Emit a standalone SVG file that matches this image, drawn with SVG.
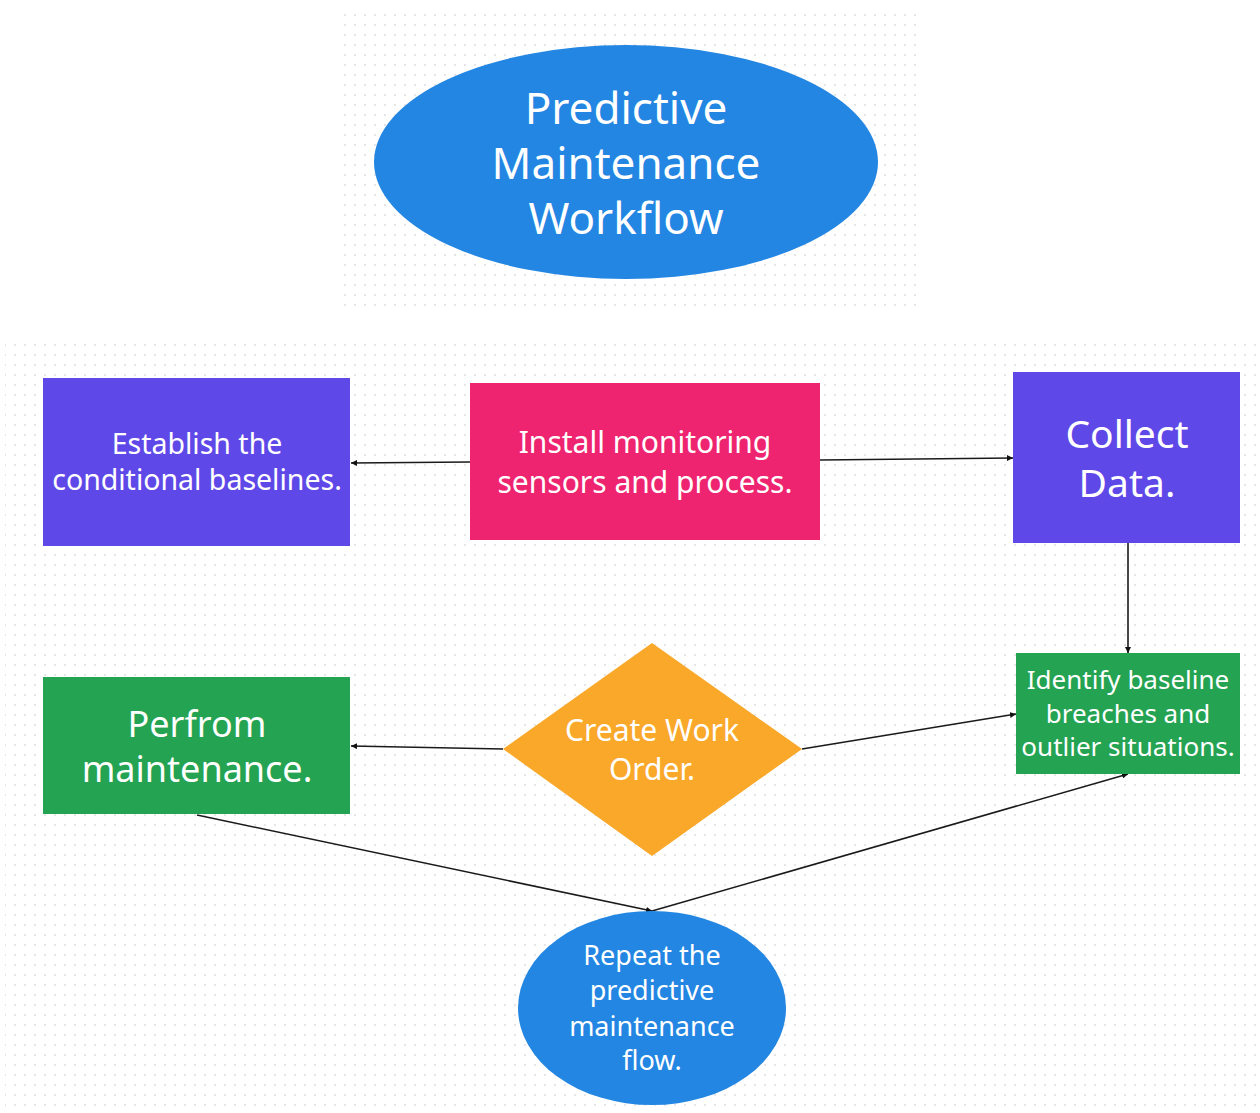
<svg xmlns="http://www.w3.org/2000/svg" width="1260" height="1113" viewBox="0 0 1260 1113">
  <defs>
    <pattern id="dots" x="0" y="0" width="10" height="10" patternUnits="userSpaceOnUse">
      <circle cx="5" cy="5" r="1" fill="#dcdce0"/>
    </pattern>
    <marker id="arrow" viewBox="0 0 10 10" refX="10" refY="5" markerWidth="6" markerHeight="6" orient="auto" markerUnits="userSpaceOnUse">
      <path d="M0,0 L10,5 L0,10 z" fill="#111"/>
    </marker>
    <style>
      .lbl { font-family: "Noto Sans", "Liberation Sans", Arial, sans-serif; fill: #ffffff; text-anchor: middle; }
      .edge { stroke: #1a1a1a; stroke-width: 1.6; fill: none; marker-end: url(#arrow); }
      .blue { fill: #2286e2; }
      .violet { fill: #5f48e8; }
      .pink { fill: #ee2470; }
      .green { fill: #24a352; }
      .amber { fill: #f9a82a; }
    </style>
  </defs>

  <rect width="1260" height="1113" fill="#ffffff"/>
  <!-- dotted canvas areas -->
  <rect x="338" y="8" width="586" height="304" fill="url(#dots)"/>
  <rect x="5" y="340" width="1252" height="770" fill="url(#dots)"/>

  <g id="title">
    <ellipse class="blue" cx="626" cy="162" rx="252" ry="117"/>
    <text class="lbl" font-size="44"><tspan x="626" y="124">Predictive</tspan><tspan x="626" y="179">Maintenance</tspan><tspan x="626" y="234">Workflow</tspan></text>
  </g>

  <g id="connectors">
    <line class="edge" x1="470" y1="462" x2="351" y2="463"/>
    <line class="edge" x1="820" y1="460" x2="1013" y2="458"/>
    <line class="edge" x1="1128" y1="543" x2="1128" y2="653"/>
    <line class="edge" x1="802" y1="749" x2="1016" y2="714"/>
    <line class="edge" x1="503" y1="749" x2="351" y2="746"/>
    <line class="edge" x1="197" y1="815" x2="652" y2="911"/>
    <line class="edge" x1="652" y1="911" x2="1128" y2="774"/>
  </g>

  <g id="establish">
    <rect class="violet" x="43" y="378" width="307" height="168"/>
    <text class="lbl" font-size="28.5"><tspan x="197" y="454">Establish the</tspan><tspan x="197" y="490">conditional baselines.</tspan></text>
  </g>

  <g id="install">
    <rect class="pink" x="470" y="383" width="350" height="157"/>
    <text class="lbl" font-size="30"><tspan x="645" y="453">Install monitoring</tspan><tspan x="645" y="493">sensors and process.</tspan></text>
  </g>

  <g id="collect">
    <rect class="violet" x="1013" y="372" width="227" height="171"/>
    <text class="lbl" font-size="39"><tspan x="1127" y="448">Collect</tspan><tspan x="1127" y="497">Data.</tspan></text>
  </g>

  <g id="identify">
    <rect class="green" x="1016" y="653" width="224" height="121"/>
    <text class="lbl" font-size="26"><tspan x="1128" y="689">Identify baseline</tspan><tspan x="1128" y="723">breaches and</tspan><tspan x="1128" y="756">outlier situations.</tspan></text>
  </g>

  <g id="create-work-order">
    <polygon class="amber" points="652,643 802,749 652,856 503,749"/>
    <text class="lbl" font-size="30"><tspan x="652" y="741">Create Work</tspan><tspan x="652" y="780">Order.</tspan></text>
  </g>

  <g id="perform">
    <rect class="green" x="43" y="677" width="307" height="137"/>
    <text class="lbl" font-size="36"><tspan x="197" y="737">Perfrom</tspan><tspan x="197" y="782">maintenance.</tspan></text>
  </g>

  <g id="repeat">
    <ellipse class="blue" cx="652" cy="1008" rx="134" ry="97"/>
    <text class="lbl" font-size="27"><tspan x="652" y="965">Repeat the</tspan><tspan x="652" y="1000">predictive</tspan><tspan x="652" y="1036">maintenance</tspan><tspan x="652" y="1070">flow.</tspan></text>
  </g>
</svg>
